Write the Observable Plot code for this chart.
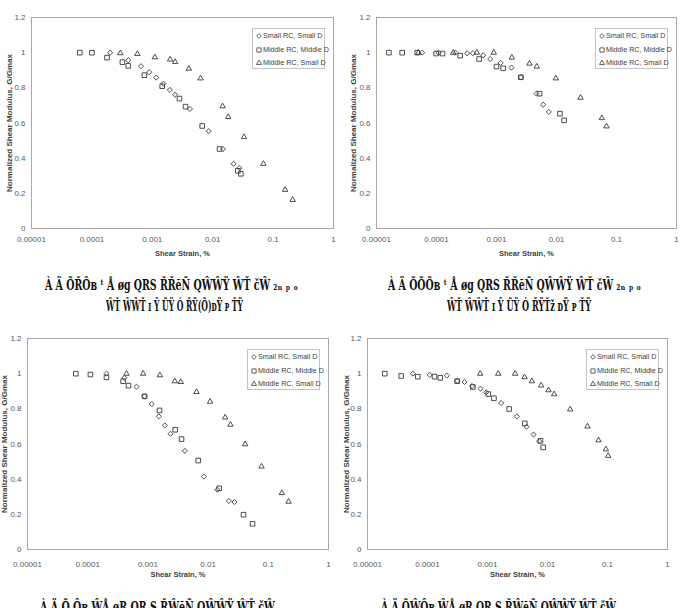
<!DOCTYPE html>
<html>
<head>
<meta charset="utf-8">
<script src="https://cdn.jsdelivr.net/npm/d3@7"></script>
<script src="https://cdn.jsdelivr.net/npm/@observablehq/plot@0.6"></script>
<style>
  body { margin: 0; background: #fff; }
  #page { position: relative; width: 682px; height: 608px; overflow: hidden; background: #fff; }
  .panel { position: absolute; }
  .legend {
    position: absolute; box-sizing: border-box; width: 73px; height: 41px;
    border: 1px solid #c4c4c4; background: #fff;
    font: 7.2px "Liberation Sans Narrow", "Liberation Sans", Arial, sans-serif; color: #404040;
  }
  .legend div { position: absolute; left: 3px; white-space: nowrap; line-height: 8px; }
  .legend svg { vertical-align: -1px; margin-right: 1px; }
  #captions { position: absolute; left: 0; top: 0; pointer-events: none; }
</style>
</head>
<body>
<div id="page"></div>
<script>
// Series shown in every panel
const seriesNames = ["Small RC, Small D", "Middle RC, Middle D", "Middle RC, Small D"];
const seriesSymbols = ["diamond2", "square", "triangle2"];

// Axis ticks
const xTicks = [1e-5, 1e-4, 1e-3, 1e-2, 1e-1, 1];
const xTickLabels = ["0.00001", "0.0001", "0.001", "0.01", "0.1", "1"];
const yTicks = [0, 0.2, 0.4, 0.6, 0.8, 1, 1.2];
const yTickLabels = ["0", "0.2", "0.4", "0.6", "0.8", "1", "1.2"];
const xTitle = "Shear Strain, %";
const yTitle = "Normalized Shear Modulus, G/Gmax";

// Panel (a)
const aSmallSmallStrain = [2.0e-4, 4.0e-4, 6.5e-4, 8.9e-4, 1.16e-3, 1.53e-3, 1.95e-3, 2.39e-3, 4.2e-3, 8.6e-3, 0.0148, 0.0222, 0.0275];
const aSmallSmallG      = [1.0, 0.957, 0.923, 0.889, 0.858, 0.824, 0.788, 0.761, 0.680, 0.554, 0.452, 0.368, 0.344];
const aMidMidStrain     = [6.3e-5, 1.0e-4, 1.78e-4, 3.2e-4, 4.0e-4, 7.4e-4, 1.46e-3, 2.82e-3, 3.55e-3, 6.7e-3, 0.0130, 0.0261, 0.0292];
const aMidMidG          = [1.0, 1.0, 0.972, 0.946, 0.925, 0.872, 0.809, 0.739, 0.693, 0.583, 0.452, 0.328, 0.311];
const aMidSmallStrain   = [2.96e-4, 5.66e-4, 1.10e-3, 1.97e-3, 2.39e-3, 4.03e-3, 6.29e-3, 0.0146, 0.0181, 0.033, 0.069, 0.158, 0.211];
const aMidSmallG        = [0.997, 0.993, 0.974, 0.961, 0.947, 0.909, 0.854, 0.695, 0.634, 0.520, 0.368, 0.220, 0.163];

// Panel (b)
const bSmallSmallStrain = [5.77e-5, 1.08e-4, 2.07e-4, 3.24e-4, 4.03e-4, 6.0e-4, 7.84e-4, 1.17e-3, 1.78e-3, 2.55e-3, 4.64e-3, 6.0e-3, 7.45e-3];
const bSmallSmallG      = [1.0, 1.0, 1.0, 0.997, 0.997, 0.985, 0.964, 0.942, 0.915, 0.860, 0.767, 0.704, 0.663];
const bMidMidStrain     = [1.61e-5, 2.68e-5, 4.77e-5, 9.87e-5, 1.26e-4, 2.48e-4, 5.14e-4, 1.0e-3, 1.29e-3, 2.55e-3, 5.21e-3, 0.0114, 0.0134];
const bMidMidG          = [1.0, 1.0, 1.0, 0.995, 0.995, 0.983, 0.964, 0.921, 0.911, 0.860, 0.767, 0.653, 0.615];
const bMidSmallStrain   = [5.0e-5, 1.9e-4, 4.7e-4, 9.0e-4, 1.8e-3, 3.55e-3, 4.7e-3, 9.75e-3, 0.0251, 0.057, 0.068];
const bMidSmallG        = [1.0, 1.0, 1.0, 1.0, 0.972, 0.938, 0.921, 0.854, 0.744, 0.628, 0.581];

// Panel (c)
const cSmallSmallStrain = [2.05e-4, 4.08e-4, 6.47e-4, 8.79e-4, 1.16e-3, 1.52e-3, 1.91e-3, 2.37e-3, 4.11e-3, 8.5e-3, 0.0143, 0.0221, 0.0275];
const cSmallSmallG      = [1.0, 0.976, 0.926, 0.871, 0.827, 0.757, 0.706, 0.658, 0.561, 0.415, 0.340, 0.276, 0.270];
const cMidMidStrain     = [6.35e-5, 1.11e-4, 2.05e-4, 3.88e-4, 4.76e-4, 8.79e-4, 1.56e-3, 2.84e-3, 3.62e-3, 6.84e-3, 0.0153, 0.0388, 0.0547];
const cMidMidG          = [1.0, 0.995, 0.979, 0.957, 0.932, 0.871, 0.791, 0.681, 0.628, 0.506, 0.348, 0.198, 0.146];
const cMidSmallStrain   = [4.4e-4, 8.34e-4, 1.58e-3, 2.8e-3, 3.52e-3, 6.41e-3, 0.0108, 0.0192, 0.0235, 0.0413, 0.0771, 0.168, 0.217];
const cMidSmallG        = [1.0, 1.0, 0.991, 0.957, 0.953, 0.896, 0.841, 0.751, 0.710, 0.599, 0.472, 0.321, 0.272];

// Panel (d)
const dSmallSmallStrain = [5.7e-5, 1.09e-4, 2.1e-4, 3.12e-4, 4.14e-4, 5.55e-4, 7.64e-4, 9.5e-4, 1.69e-3, 3.08e-3, 4.47e-3, 5.85e-3, 7.26e-3];
const dSmallSmallG      = [1.0, 0.993, 0.989, 0.959, 0.953, 0.930, 0.915, 0.894, 0.833, 0.757, 0.698, 0.654, 0.616];
const dMidMidStrain     = [1.94e-5, 3.64e-5, 6.9e-5, 1.31e-4, 1.63e-4, 3.12e-4, 5.7e-4, 1.03e-3, 1.28e-3, 2.3e-3, 4.19e-3, 7.64e-3, 8.47e-3];
const dMidMidG          = [1.0, 0.987, 0.983, 0.983, 0.976, 0.957, 0.924, 0.884, 0.860, 0.799, 0.717, 0.618, 0.581];
const dMidSmallStrain   = [7.55e-4, 1.51e-3, 2.89e-3, 4.14e-3, 5.48e-3, 7.84e-3, 0.0104, 0.0129, 0.0239, 0.0464, 0.0708, 0.0938, 0.1026];
const dMidSmallG        = [1.0, 1.0, 1.0, 0.980, 0.957, 0.933, 0.906, 0.883, 0.797, 0.700, 0.621, 0.570, 0.533];

// Figure captions under each panel
const captionLines = [
  ["À Ä  ÕŘÔʙ ᵗ Å  øg QRS ŘŘĕÑ QŴŴŸ ŴŤ čŴ ₂ₙ ₚ ₒ", "ŴŤ ŴŴŤ ɪ   Ŷ   ŨŸ Ó ŘŸ(Õ)ᴅŸ ᴘ ŤŸ"],
  ["À Ä  ÕÕÕʙ ᵗ Å  øg QRS ŘŘĕÑ QŴŴŸ ŴŤ čŴ ₂ₙ ₚ ₒ", "ŴŤ ŴŴŤ ɪ   Ŷ   ŨŸ Ó ŘŸŤž ᴅŸ ᴘ ŤŸ"],
  ["À Ä  Õ Ôʙ ŴÅ  øŖ QR S ŘŴĕÑ QŴŴŸ ŴŤ čŴ ₙ"],
  ["À Ä  ÕŴÔʙ ŴÅ  øŖ QR S ŘŴĕÑ QŴŴŸ ŴŤ čŴ ₙ"]
];

function panelData(ss, sg, ms, mg, ts, tg) {
  const build = (xs, ys, k) => xs.map((x, i) => ({series: seriesNames[k], strain: x, g: ys[i]}));
  return [build(ss, sg, 0), build(ms, mg, 1), build(ts, tg, 2)];
}

const panelSets = [
  panelData(aSmallSmallStrain, aSmallSmallG, aMidMidStrain, aMidMidG, aMidSmallStrain, aMidSmallG),
  panelData(bSmallSmallStrain, bSmallSmallG, bMidMidStrain, bMidMidG, bMidSmallStrain, bMidSmallG),
  panelData(cSmallSmallStrain, cSmallSmallG, cMidMidStrain, cMidMidG, cMidSmallStrain, cMidSmallG),
  panelData(dSmallSmallStrain, dSmallSmallG, dMidMidStrain, dMidMidG, dMidSmallStrain, dMidSmallG)
];

// Placement of the four panels on the page
const layout = [
  {left: 0,   top: 0,   ml: 31, mr: 8,  mt: 17, mb: 34, xPad: 13, yDx: -22},
  {left: 341, top: 0,   ml: 35, mr: 6,  mt: 17, mb: 34, xPad: 13, yDx: -23},
  {left: 0,   top: 320, ml: 27, mr: 13, mt: 18, mb: 33, xPad: 17, yDx: -23},
  {left: 341, top: 320, ml: 26, mr: 15, mt: 18, mb: 33, xPad: 17, yDx: -21}
];
const captionPos = [
  [{x0: 45, x1: 298, y: 290}, {x0: 106, x1: 243, y: 311}],
  [{x0: 388, x1: 641, y: 290}, {x0: 447, x1: 591, y: 311}],
  [{x0: 40, x1: 283, y: 612}],
  [{x0: 381, x1: 624, y: 612}]
];

const W = 341, H = 262;
const page = document.getElementById("page");
const smallFont = '"Liberation Sans Narrow", "Liberation Sans", Arial, sans-serif';
const ink = "#3a3a3a";
const symbolR = [2.3, 2.6, 2.6];

panelSets.forEach((sets, p) => {
  const L = layout[p];
  const chart = Plot.plot({
    width: W, height: H,
    marginLeft: L.ml, marginRight: L.mr, marginTop: L.mt, marginBottom: L.mb,
    style: {fontFamily: '"Liberation Sans", Arial, sans-serif', fontSize: "8px", color: "#595959", background: "transparent"},
    x: {type: "log", domain: [1e-5, 1], axis: null},
    y: {domain: [0, 1.2]},
    marks: [
      Plot.frame({stroke: "#a8a8a8"}),
      ...sets.map((rows, k) => Plot.dot(rows, {
        x: "strain", y: "g", symbol: seriesSymbols[k], r: symbolR[k],
        stroke: ink, fill: "none", strokeWidth: 0.9
      })),
      // decade labels under the log axis
      Plot.text(xTicks, {x: d => d, frameAnchor: "bottom", dy: L.xPad, text: (d, i) => xTickLabels[i], fill: "#595959", fontSize: 8}),
      Plot.axisY({ticks: yTicks, tickFormat: (d, i) => yTickLabels[i], tickSize: 0, tickPadding: 6, label: null}),
      Plot.text([xTitle], {frameAnchor: "bottom", dy: 27, text: d => d, fontWeight: "bold", fontSize: 7.5, fill: "#404040", fontFamily: smallFont}),
      Plot.text([yTitle], {frameAnchor: "left", dx: L.yDx, rotate: -90, textAnchor: "middle", text: d => d, fontWeight: "bold", fontSize: 8, fill: "#404040", fontFamily: smallFont})
    ]
  });
  chart.classList.add("panel");
  chart.style.left = L.left + "px";
  chart.style.top = L.top + "px";
  page.appendChild(chart);

  // Legend box inside the upper-right corner of the plot frame
  const legend = document.createElement("div");
  legend.className = "legend";
  legend.style.left = (L.left + W - L.mr - 8 - 73) + "px";
  legend.style.top = (L.top + L.mt + 11) + "px";
  seriesNames.forEach((name, k) => {
    const row = document.createElement("div");
    row.style.top = (3 + k * 13.5) + "px";
    const sym = d3.create("svg").attr("width", 6).attr("height", 6);
    sym.append("path")
      .attr("transform", "translate(3,3)")
      .attr("d", d3.symbol(k === 0 ? d3.symbolDiamond2 : k === 1 ? d3.symbolSquare : d3.symbolTriangle2, k === 0 ? 14 : 18)())
      .attr("fill", "none").attr("stroke", ink).attr("stroke-width", 0.8);
    row.appendChild(sym.node());
    row.appendChild(document.createTextNode(name));
    legend.appendChild(row);
  });
  page.appendChild(legend);
});

// Captions
const cap = d3.create("svg").attr("id", "captions").attr("width", 682).attr("height", 608);
captionLines.forEach((lines, p) => {
  lines.forEach((t, j) => {
    const pos = captionPos[p][j];
    cap.append("text")
      .attr("x", pos.x0).attr("y", pos.y)
      .attr("textLength", pos.x1 - pos.x0)
      .attr("lengthAdjust", "spacingAndGlyphs")
      .attr("font-family", '"DejaVu Serif", "Liberation Serif", serif')
      .attr("font-weight", "bold")
      .attr("font-size", 14)
      .attr("fill", "#111")
      .text(t);
  });
});
page.appendChild(cap.node());
</script>
</body>
</html>
